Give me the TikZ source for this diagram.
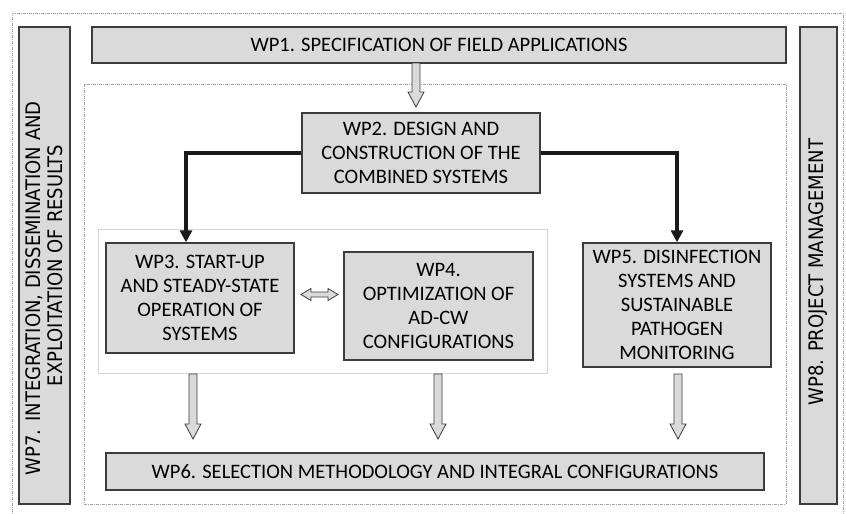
\documentclass[tikz,border=0pt]{standalone}
\usepackage{fontspec}
\setmainfont{Carlito}
\newfontfamily\sidefont{DejaVu Sans Condensed}
\usetikzlibrary{arrows.meta,calc,shadows}

\definecolor{boxfill}{RGB}{218,218,218}
\definecolor{boxline}{RGB}{60,60,60}
\definecolor{dotline}{RGB}{165,165,165}
\definecolor{frameline}{RGB}{215,215,215}

\tikzset{
  wpbox/.style={draw=boxline,fill=boxfill,line width=1pt,align=center,inner sep=0pt,
    drop shadow={shadow xshift=0.9pt,shadow yshift=-0.9pt,fill=black!45,opacity=1},
    font=\fontsize{15.4}{18}\selectfont},
  sidebox/.style={wpbox,rotate=90,font=\sidefont\fontsize{15}{16.5}\selectfont},
  dotframe/.style={draw=dotline,line width=0.75pt,dash pattern={on 2.25pt off 0.75pt on 0.75pt off 0.75pt}},
  mainflow/.style={line width=2.4pt,draw=black!90,-{Triangle[length=9pt,width=9pt]}},
  fatarrow/.style={draw=boxline,fill=boxfill,line width=0.6pt,line join=miter}
}

% hollow arrow pointing down, from #1 (top) to #2 (tip)
\newcommand{\fatdown}[2]{%
  \draw[fatarrow] ($(#1)+(-4,0)$) -- ($(#2)+(-4,-15)$) -- ($(#2)+(-8,-15)$)
    -- (#2) -- ($(#2)+(8,-15)$) -- ($(#2)+(4,-15)$) -- ($(#1)+(4,0)$) -- cycle;}

\begin{document}
\begin{tikzpicture}[x=0.75pt,y=-0.75pt]
  \useasboundingbox (0,0) rectangle (846,514);

  % frames
  \draw[dotframe] (12,530) -- (12,13) -- (843,13) -- (843,530);
  \draw[dotframe] (84,84) rectangle (786,504);
  \draw[frameline,line width=0.75pt] (98,229) rectangle (547,373);

  % work packages
  \node[wpbox,minimum width=520.5pt,minimum height=27pt] (wp1) at (439,45)
    {WP1. SPECIFICATION OF FIELD APPLICATIONS};
  \node[wpbox,minimum width=178.5pt,minimum height=60pt] (wp2) at (421,153)
    {WP2. DESIGN AND\\CONSTRUCTION OF THE\\COMBINED SYSTEMS};
  \node[wpbox,minimum width=141pt,minimum height=82.5pt] (wp3) at (200,298)
    {WP3. START-UP\\AND STEADY-STATE\\OPERATION OF\\SYSTEMS};
  \node[wpbox,minimum width=141.75pt,minimum height=81pt] (wp4) at (438.5,306)
    {WP4.\\OPTIMIZATION OF\\AD-CW\\CONFIGURATIONS};
  \node[wpbox,minimum width=141pt,minimum height=93pt] (wp5) at (677,305)
    {WP5. DISINFECTION\\SYSTEMS AND\\SUSTAINABLE\\PATHOGEN\\MONITORING};
  \node[wpbox,minimum width=493.5pt,minimum height=27.75pt] (wp6) at (435,471.5)
    {WP6. SELECTION METHODOLOGY AND INTEGRAL CONFIGURATIONS};
  \node[sidebox,minimum width=357.75pt,minimum height=38.25pt] (wp7) at (44.5,265.5)
    {WP7. INTEGRATION, DISSEMINATION AND\hspace*{34pt}\\EXPLOITATION OF RESULTS};
  \node[sidebox,minimum width=357.75pt,minimum height=27.75pt] (wp8) at (818.5,265.5)
    {WP8. PROJECT MANAGEMENT\hspace*{9.75pt}};

  % flows
  \coordinate (in3) at ($(wp3.north)+(-14,0)$);
  \draw[mainflow] (wp2.west) -| (in3);
  \draw[mainflow] (wp2.east) -| (wp5.north);

  \coordinate (a1) at (416,63);  \coordinate (b1) at (416,107);
  \coordinate (a3) at (193,374); \coordinate (b3) at (193,439);
  \coordinate (a4) at (438,374); \coordinate (b4) at (438,439);
  \coordinate (a5) at (678,374); \coordinate (b5) at (678,439);
  \fatdown{a1}{b1}
  \fatdown{a3}{b3}
  \fatdown{a4}{b4}
  \fatdown{a5}{b5}

  \coordinate (d1) at (301,294.5); \coordinate (d2) at (338,294.5);
  \draw[fatarrow] (d1) -- ($(d1)+(10,-6)$) -- ($(d1)+(10,-2.5)$) -- ($(d2)+(-10,-2.5)$)
    -- ($(d2)+(-10,-6)$) -- (d2) -- ($(d2)+(-10,6)$) -- ($(d2)+(-10,2.5)$)
    -- ($(d1)+(10,2.5)$) -- ($(d1)+(10,6)$) -- cycle;
\end{tikzpicture}
\end{document}
